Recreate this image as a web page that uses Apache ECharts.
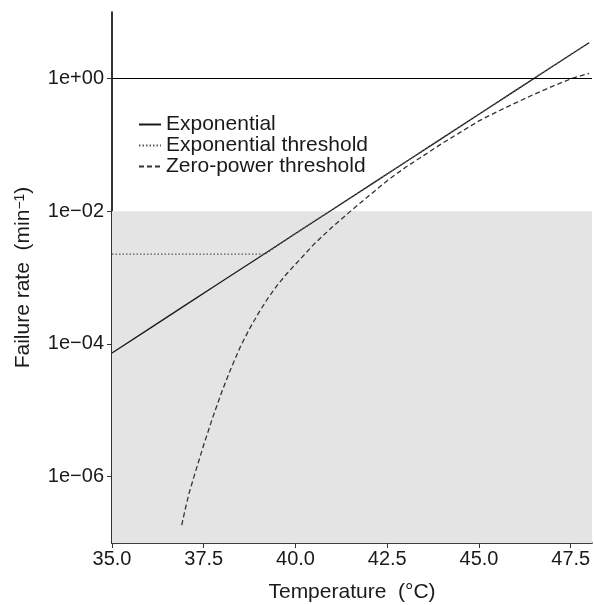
<!DOCTYPE html>
<html>
<head>
<meta charset="utf-8">
<script src="https://cdn.jsdelivr.net/npm/echarts@6/dist/echarts.min.js"></script>
<style>
html,body{margin:0;padding:0;background:#fff;}
#chart{width:595px;height:605px;}
</style>
</head>
<body>
<div id="chart"></div>
<script>
// ---- data ----
const expTemps = [35, 36, 37, 38, 39, 40, 41, 42, 43, 44, 45, 46, 47, 48];
const expRates = [7.3e-5, 1.67e-4, 3.84e-4, 8.8e-4, 2.0e-3, 4.6e-3, 1.05e-2, 2.4e-2, 5.5e-2, 0.126, 0.288, 0.66, 1.51, 3.44];

const thrTemps = [35, 39.17, 40, 41, 42, 43, 44, 45, 46, 47, 48];
const thrRates = [2.25e-3, 2.25e-3, 4.6e-3, 1.05e-2, 2.4e-2, 5.5e-2, 0.126, 0.288, 0.66, 1.51, 3.44];

const zpTemps = [36.9, 37.0, 37.1, 37.25, 37.5, 37.75, 38.0, 38.25, 38.5, 38.75, 39.0, 39.25, 39.5, 39.75,
                 40.0, 40.5, 41.0, 41.5, 42.0, 42.5, 43.0, 43.5, 44.0, 44.5, 45.0, 45.5, 46.0, 46.5, 47.0, 47.54, 48.0];
const zpRates = [1.86e-7, 3.31e-7, 5.62e-7, 1.07e-6, 3.02e-6, 7.94e-6, 1.95e-5, 4.37e-5, 9.12e-5, 1.70e-4, 2.95e-4, 4.90e-4, 7.59e-4, 1.12e-3,
                 1.58e-3, 3.16e-3, 5.75e-3, 1.0e-2, 1.70e-2, 2.88e-2, 4.57e-2, 6.92e-2, 0.105, 0.155, 0.229, 0.316, 0.427, 0.575, 0.759, 1.0, 1.19];

const xTickValues = [35, 37.5, 40, 42.5, 45, 47.5];
const yTickValues = [1e-6, 1e-4, 1e-2, 1];
const referenceRate = 1;          // horizontal reference line
const shadedRange = [1e-7, 1e-2]; // grey band

const seriesNames = ['Exponential', 'Exponential threshold', 'Zero-power threshold'];

// ---- chart ----
const FONT = 'Liberation Sans, Arial, Helvetica, sans-serif';
const TXT = '#1a1a1a';
const pairs = (xs, ys) => xs.map((x, i) => [x, ys[i]]);
const fmtY = v => {
  const e = Math.round(Math.log10(v));
  return '1e' + (e < 0 ? '\u2212' : '+') + String(Math.abs(e)).padStart(2, '0');
};

const chart = echarts.init(document.getElementById('chart'), null, {renderer: 'canvas'});
chart.setOption({
  animation: false,
  backgroundColor: '#fff',
  textStyle: {fontFamily: FONT},
  grid: {left: 112, right: 3, top: 12, bottom: 62, containLabel: false, outerBoundsMode: 'none'},
  legend: {
    orient: 'vertical',
    left: 133, top: 109,
    itemWidth: 22, itemHeight: 14, itemGap: 0,
    itemStyle: {opacity: 0},
    textStyle: {fontSize: 21, lineHeight: 21, color: TXT, fontFamily: FONT},
    data: seriesNames
  },
  xAxis: {
    type: 'value', min: 35, max: 48.08, interval: 2.5,
    name: 'Temperature  (°C)', nameLocation: 'middle', nameGap: 39,
    nameTextStyle: {fontSize: 21, color: TXT, fontFamily: FONT},
    axisLine: {show: true, onZero: false, lineStyle: {color: '#000', width: 1.6}},
    axisTick: {show: true, length: 5, lineStyle: {color: '#333', width: 1}, customValues: xTickValues},
    axisLabel: {fontSize: 20, color: TXT, margin: 6, formatter: v => v.toFixed(1), customValues: xTickValues},
    splitLine: {show: false}
  },
  yAxis: {
    type: 'log', logBase: 10, min: 1e-7, max: 10,
    name: 'Failure rate  (min{sup|\u22121})', nameLocation: 'middle', nameGap: 78,
    nameTextStyle: {fontSize: 21, color: TXT, fontFamily: FONT,
      rich: {sup: {fontSize: 14, color: TXT, verticalAlign: 'top', fontFamily: FONT}}},
    axisLine: {show: true, lineStyle: {color: '#000', width: 1.6}},
    axisTick: {show: true, length: 5, lineStyle: {color: '#333', width: 1}, customValues: yTickValues},
    axisLabel: {fontSize: 20, color: TXT, margin: 8, formatter: fmtY, customValues: yTickValues},
    minorTick: {show: false},
    splitLine: {show: false}
  },
  series: [
    {
      name: seriesNames[0], type: 'line', data: pairs(expTemps, expRates),
      showSymbol: false, symbol: 'none', z: 3,
      lineStyle: {color: '#1a1a1a', width: 1.3, type: 'solid'},
      itemStyle: {color: '#1a1a1a'},
      markArea: {
        silent: true,
        itemStyle: {color: '#e4e4e4'},
        data: [[{yAxis: shadedRange[0]}, {yAxis: shadedRange[1]}]]
      },
      markLine: {
        silent: true, symbol: 'none', label: {show: false},
        lineStyle: {color: '#000', width: 1, type: 'solid'},
        data: [{yAxis: referenceRate}]
      }
    },
    {
      name: seriesNames[1], type: 'line', data: pairs(thrTemps, thrRates),
      showSymbol: false, symbol: 'none', z: 4,
      lineStyle: {color: '#555', width: 1.3, type: [1.5, 2]},
      itemStyle: {color: '#555'}
    },
    {
      name: seriesNames[2], type: 'line', data: pairs(zpTemps, zpRates),
      showSymbol: false, symbol: 'none', smooth: false, z: 4,
      lineStyle: {color: '#333', width: 1.3, type: [5, 3]},
      itemStyle: {color: '#333'}
    }
  ]
});
</script>
</body>
</html>
